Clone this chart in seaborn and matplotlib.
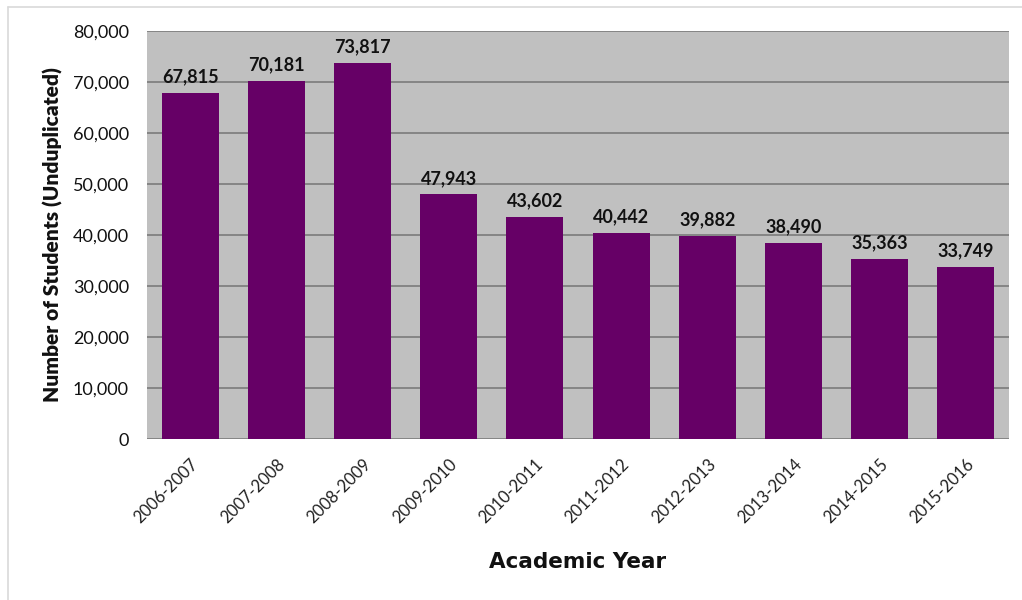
import matplotlib
matplotlib.use("Agg")
import matplotlib.pyplot as plt
import seaborn as sns
import pandas as pd
from matplotlib.lines import Line2D
from matplotlib.ticker import FuncFormatter, MultipleLocator

years = ["2006-2007", "2007-2008", "2008-2009", "2009-2010", "2010-2011",
         "2011-2012", "2012-2013", "2013-2014", "2014-2015", "2015-2016"]
students = [67815, 70181, 73817, 47943, 43602, 40442, 39882, 38490, 35363, 33749]

df = pd.DataFrame({"year": years, "students": students})

sns.set_theme(style="white")
plt.rcParams['font.family'] = ['Lato', 'DejaVu Sans']

fig = plt.figure(figsize=(10.22, 6.0), dpi=100)
ax = fig.add_axes([147/1022, 1 - 439/600, (1009-147)/1022, (439-31)/600])
ax.set_facecolor("#c0c0c0")

sns.barplot(data=df, x="year", y="students", color="#660066", width=0.66,
            saturation=1, linewidth=0, edgecolor="none", ax=ax, zorder=3)

ax.set_ylim(0, 80000)
ax.set_xlim(-0.5, len(years) - 0.5)
ax.yaxis.set_major_locator(MultipleLocator(10000))
ax.yaxis.set_major_formatter(FuncFormatter(lambda v, p: f"{int(v):,}"))
ax.grid(axis="y", color="#808080", linewidth=1.3, zorder=0)
ax.set_axisbelow(True)
for s in ax.spines.values():
    s.set_visible(False)

for i, v in enumerate(students):
    ax.text(i, v + 1500, f"{v:,}", ha="center", va="bottom",
            fontsize=13, fontweight="bold", color="#111111", zorder=4)

ax.tick_params(axis="y", labelsize=13, colors="#111111", length=0, pad=13)
ax.tick_params(axis="x", labelsize=12, colors="#222222", length=0, pad=12)
plt.setp(ax.get_xticklabels(), rotation=45, ha="right", rotation_mode="anchor")

ax.set_xlabel("Academic Year", fontsize=15.5, fontweight="bold", color="#111111",
              family=["DejaVu Sans"])
ax.xaxis.set_label_coords(0.5, -(562 - 439) / 408)
ax.xaxis.label.set_va("center")
ax.set_ylabel("Number of Students (Unduplicated)", fontsize=15, fontweight="heavy",
              color="#111111")
ax.yaxis.set_label_coords(-(147 - 53) / 862, 0.5)
ax.yaxis.label.set_va("center")

# outer chart border (top and left visible)
fig.add_artist(Line2D([8/1022, 1.0], [1 - 7/600, 1 - 7/600], transform=fig.transFigure,
                      color="#d9d9d9", linewidth=1.2))
fig.add_artist(Line2D([8/1022, 8/1022], [0.0, 1 - 7/600], transform=fig.transFigure,
                      color="#d9d9d9", linewidth=1.2))

fig.savefig("out.png", dpi=100, facecolor="white")
